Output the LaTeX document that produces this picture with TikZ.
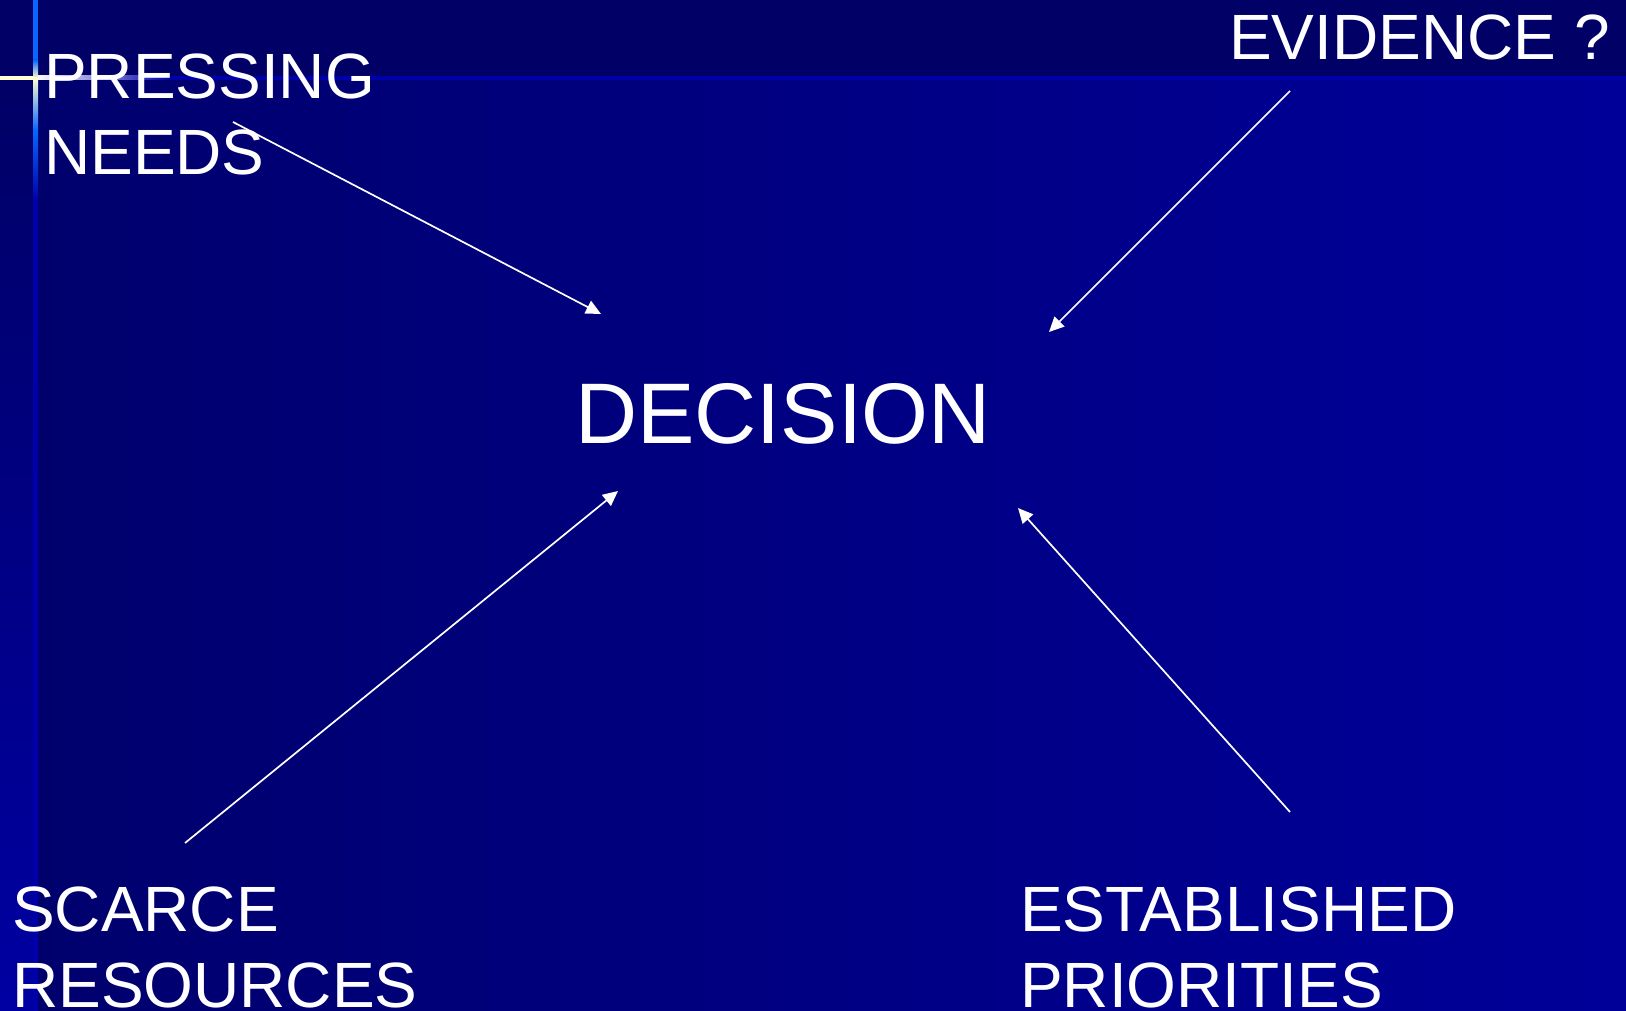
\documentclass[tikz,border=0pt]{standalone}
\usepackage{fontspec}
\setmainfont{Liberation Sans}
\usetikzlibrary{positioning,arrows.meta,calc}
\definecolor{bgdark}{HTML}{000066}
\definecolor{bgleft}{HTML}{00006C}
\definecolor{bgright}{HTML}{000099}
\definecolor{stripe}{HTML}{0000A2}
\definecolor{rayline}{HTML}{0000AA}
\definecolor{raybright}{HTML}{0A66FF}
\definecolor{glow}{HTML}{FFFFD0}
\newcommand{\lbig}{\fontsize{64pt}{76pt}\selectfont}
\tikzset{
  lab/.style={font=\lbig, text=white, align=left, inner sep=0pt, anchor=base west},
  declab/.style={font=\fontsize{86pt}{100pt}\selectfont, text=white, inner sep=0pt, anchor=base west},
  arr/.style={-{Triangle[length=15pt,width=14pt]}, line width=1.7pt, color=white},
}

\begin{document}
\begin{tikzpicture}[x=1pt, y=-1pt]
    \useasboundingbox (0,0) rectangle (1626,1011);
    % background
    \shade[left color=bgleft, right color=bgright] (0,80) rectangle (1626,1011);
    \shade[top color=bgdark, bottom color=stripe] (0,80) rectangle (33,1011);
    \fill[bgdark] (0,0) rectangle (1626,80);
    \fill[rayline] (0,76) rectangle (1626,80);
    \shade[left color=white, middle color=raybright, right color=rayline] (35,76) rectangle (170,80);
    \fill[glow] (0,76) rectangle (35,80);
    \fill[raybright] (33,0) rectangle (38,60);
    \shade[top color=raybright, bottom color=glow] (33,60) rectangle (38,78);
    \shade[top color=glow, bottom color=raybright] (33,78) rectangle (38,130);
    \shade[top color=raybright, bottom color=rayline] (33,130) rectangle (38,200);
    \fill[rayline] (33,200) rectangle (38,1011);
    % labels (base = last line)
    \node[lab] (press) at (44,175) {PRESSING\\NEEDS};
    \node[lab] (evid) at (1229,60) {EVIDENCE ?};
    \node[declab] (dec) at (575,443) {DECISION};
    \node[lab] (scarce) at (12,1007) {SCARCE\\RESOURCES};
    \node[lab] (estab) at (1020,1007) {ESTABLISHED\\PRIORITIES};
    % arrows
    \coordinate (pt) at (233,122);  \coordinate (ph) at (601,314);
    \coordinate (et) at (1290,91);  \coordinate (eh) at (1049,332);
    \coordinate (st) at (185,843);  \coordinate (sh) at (618,491);
    \coordinate (bt) at (1290,812); \coordinate (bh) at (1018,508);
    \draw[arr] (pt) -- (ph);
    \draw[arr] (et) -- (eh);
    \draw[arr] (st) -- (sh);
    \draw[arr] (bt) -- (bh);
  \end{tikzpicture}
\end{document}
